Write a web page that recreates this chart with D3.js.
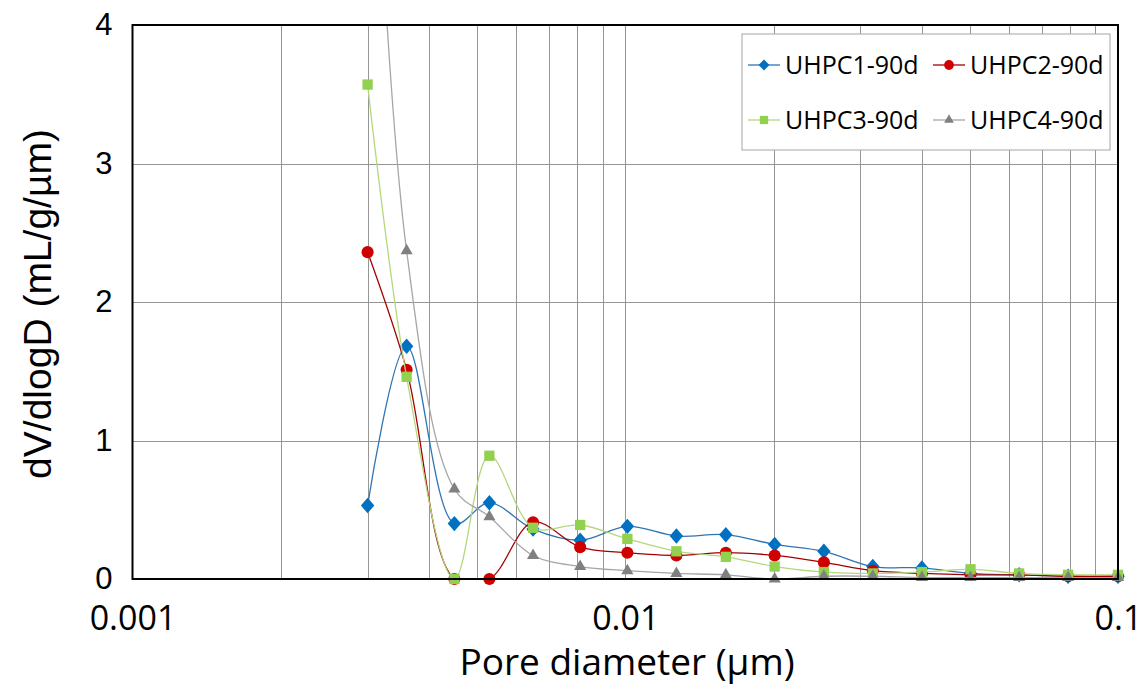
<!DOCTYPE html>
<html lang="en">
<head>
    <meta charset="UTF-8">
    <title>Pore size distribution</title>
    <script src="https://d3js.org/d3.v7.min.js"></script>
    <style>
        body { margin: 0; background: #fff; }
        .grid line { stroke: #969696; stroke-width: 1px; }
        .ytick text { font-family: "Liberation Sans", Arial, sans-serif; font-size: 31px; fill: #000; }
        .xtick text { font-family: "Open Sans", sans-serif; font-size: 34px; fill: #000; }
        .legend text { font-family: "Open Sans", sans-serif; font-size: 25px; fill: #000; }
    </style>
</head>
<body>
    <script>
        // Pore diameters (um) and dV/dlogD values
        const diameters = [0.0030, 0.0036, 0.0045, 0.0053, 0.0065, 0.0081, 0.0101, 0.0127, 0.0160,
                           0.0201, 0.0253, 0.0318, 0.0400, 0.0502, 0.0630, 0.0792, 0.1000];
        const uhpc1 = [0.53, 1.68, 0.40, 0.55, 0.36, 0.28, 0.38, 0.31, 0.32, 0.25, 0.20, 0.09, 0.08, 0.04, 0.03, 0.02, 0.02];
        const uhpc2 = [2.36, 1.51, 0.00, 0.00, 0.41, 0.23, 0.19, 0.17, 0.19, 0.17, 0.12, 0.06, 0.04, 0.03, 0.03, 0.02, 0.02];
        const uhpc3 = [3.57, 1.46, 0.00, 0.89, 0.37, 0.39, 0.29, 0.20, 0.16, 0.09, 0.05, 0.04, 0.05, 0.07, 0.04, 0.03, 0.03];
        const uhpc4 = [6.60, 2.37, 0.65, 0.45, 0.17, 0.09, 0.06, 0.04, 0.03, 0.00, 0.02, 0.02, 0.01, 0.01, 0.01, 0.01, 0.01];

        const seriesNames = ["UHPC1-90d", "UHPC2-90d", "UHPC3-90d", "UHPC4-90d"];
        const xTicks = [0.001, 0.01, 0.1];
        const yTicks = [0, 1, 2, 3, 4];

        const series = [
            {name: seriesNames[0], values: uhpc1, line: "#2e75b6", fill: "#0070c0", symbol: d3.symbolDiamond2, size: 115},
            {name: seriesNames[1], values: uhpc2, line: "#a50000", fill: "#d00000", symbol: d3.symbolCircle, size: 115},
            {name: seriesNames[2], values: uhpc3, line: "#b5d77e", fill: "#92d050", symbol: d3.symbolSquare2, size: 135},
            {name: seriesNames[3], values: uhpc4, line: "#a6a6a6", fill: "#808080", symbol: d3.symbolTriangle2, size: 105}
        ];

        const width = 1145, height = 693;
        const mLeft = 132.5, mRight = 1118, mTop = 25, mBottom = 579;

        const svg = d3.select("body")
            .append("svg")
            .attr("width", width)
            .attr("height", height);

        const x = d3.scaleLog().domain([0.001, 0.1]).range([mLeft, mRight]);
        const y = d3.scaleLinear().domain([0, 4]).range([mBottom, mTop]);

        // Grid lines
        const grid = svg.append("g").attr("class", "grid");
        grid.selectAll("line.v")
            .data(x.ticks().filter(d => d > 0.0011 && d < 0.099))
            .join("line")
            .attr("class", "v")
            .attr("x1", d => Math.round(x(d)) + 0.5)
            .attr("x2", d => Math.round(x(d)) + 0.5)
            .attr("y1", mTop)
            .attr("y2", mBottom);
        grid.selectAll("line.h")
            .data(yTicks.filter(d => d > 0 && d < 4))
            .join("line")
            .attr("class", "h")
            .attr("x1", mLeft)
            .attr("x2", mRight)
            .attr("y1", d => Math.round(y(d)) + 0.5)
            .attr("y2", d => Math.round(y(d)) + 0.5);

        // Axes (labels only)
        svg.append("g")
            .attr("class", "ytick")
            .attr("transform", `translate(${mLeft},0)`)
            .call(d3.axisLeft(y).tickValues(yTicks).tickSize(0).tickPadding(20).tickFormat(d3.format("d")))
            .call(g => g.select(".domain").remove());

        svg.append("g")
            .attr("class", "xtick")
            .attr("transform", `translate(0,${mBottom})`)
            .call(d3.axisBottom(x).tickValues(xTicks).tickSize(0).tickPadding(27).tickFormat(d => String(d)))
            .call(g => g.select(".domain").remove());

        // Clip for lines
        svg.append("clipPath").attr("id", "plot-clip")
            .append("rect")
            .attr("x", mLeft).attr("y", mTop)
            .attr("width", mRight - mLeft).attr("height", mBottom - mTop);

        const line = d3.line()
            .x((d, i) => x(diameters[i]))
            .y(d => y(d))
            .curve(d3.curveCatmullRom.alpha(0.5));

        const plot = svg.append("g");
        series.forEach(s => {
            plot.append("path")
                .attr("clip-path", "url(#plot-clip)")
                .attr("d", line(s.values))
                .attr("fill", "none")
                .attr("stroke", s.line)
                .attr("stroke-width", 1.3);

            plot.append("g")
                .selectAll("path")
                .data(s.values.map((v, i) => ({v, d: diameters[i]})).filter(p => p.v <= 4))
                .join("path")
                .attr("d", d3.symbol().type(s.symbol).size(s.size))
                .attr("transform", p => `translate(${x(p.d)},${y(p.v)})${s.symbol === d3.symbolDiamond2 ? " scale(1.0,1.15)" : ""}`)
                .attr("fill", s.fill);
        });

        // Plot frame
        svg.append("rect")
            .attr("x", mLeft).attr("y", mTop)
            .attr("width", mRight - mLeft).attr("height", mBottom - mTop)
            .attr("fill", "none")
            .attr("stroke", "#000")
            .attr("stroke-width", 2);

        // Legend
        const legend = svg.append("g").attr("class", "legend");
        legend.append("rect")
            .attr("x", 742).attr("y", 34)
            .attr("width", 368).attr("height", 116)
            .attr("fill", "#fff")
            .attr("stroke", "#a6a6a6")
            .attr("stroke-width", 1);

        const legendPos = [[748, 65], [933, 65], [748, 120], [933, 120]];
        series.forEach((s, i) => {
            const [lx, ly] = legendPos[i];
            const g = legend.append("g").attr("transform", `translate(${lx},${ly})`);
            g.append("line")
                .attr("x1", 0).attr("x2", 32)
                .attr("y1", 0).attr("y2", 0)
                .attr("stroke", s.line)
                .attr("stroke-width", 1.3);
            g.append("path")
                .attr("d", d3.symbol().type(s.symbol).size(s.size * 0.65))
                .attr("transform", "translate(16,0)")
                .attr("fill", s.fill);
            g.append("text")
                .attr("x", 37)
                .attr("y", 9)
                .text(s.name);
        });

        // Axis titles
        svg.append("text")
            .attr("x", 627)
            .attr("y", 675)
            .attr("text-anchor", "middle")
            .attr("font-family", "Open Sans, sans-serif")
            .attr("font-size", 37)
            .text("Pore diameter (µm)");

        svg.append("text")
            .attr("transform", "translate(51,304) rotate(-90)")
            .attr("text-anchor", "middle")
            .attr("font-family", "Liberation Sans, Arial, sans-serif")
            .attr("font-size", 39)
            .text("dV/dlogD (mL/g/µm)");
    </script>
</body>
</html>
